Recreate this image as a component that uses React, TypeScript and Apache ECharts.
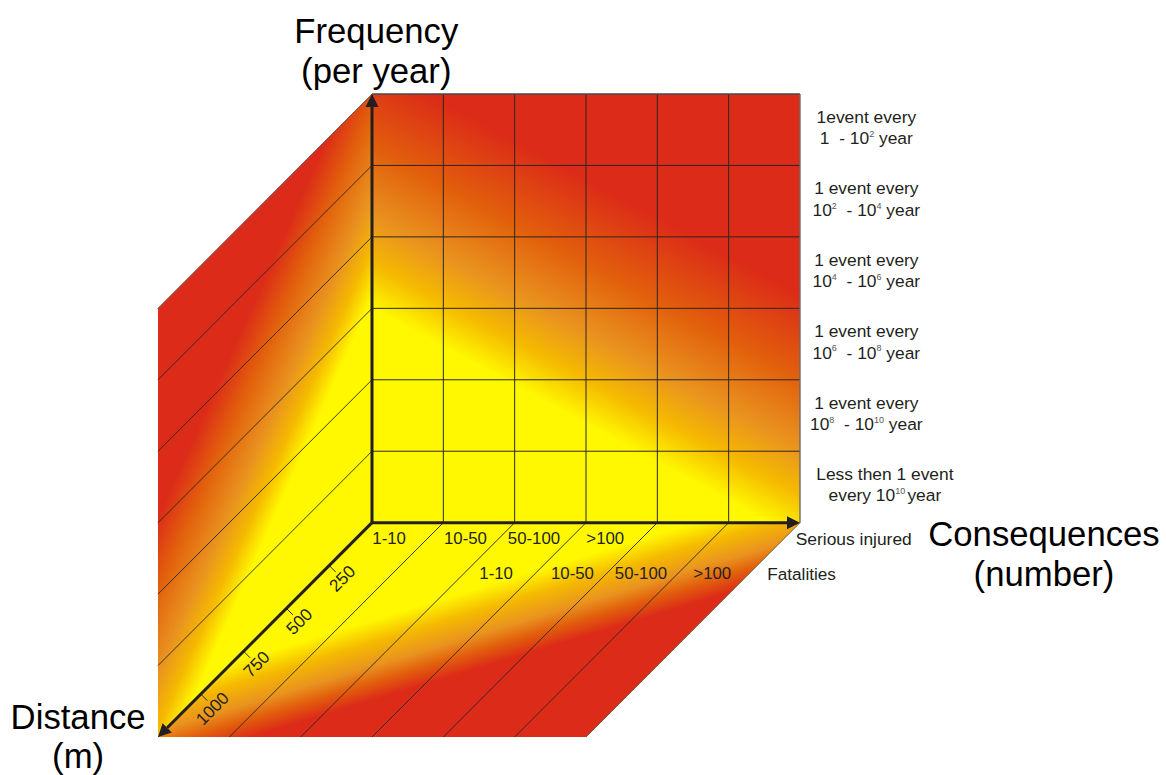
import React, { useEffect, useRef } from "react";
import * as echarts from "echarts";

// Axis content
const frequencyLabels = [
  "Less then 1 event\nevery 10{sup|10}{gap| }year",
  "1 event every\n10{sup|8}  - 10{sup|10} year",
  "1 event every\n10{sup|6}  - 10{sup|8} year",
  "1 event every\n10{sup|4}  - 10{sup|6} year",
  "1 event every\n10{sup|2}  - 10{sup|4} year",
  "1event every\n1  - 10{sup|2} year",
];
const consequenceLabels = ["1-10", "10-50", "50-100", ">100"];
const consequenceRows = ["Serious injured", "Fatalities"];
const distanceTicks = [250, 500, 750, 1000];
const distanceDepthPerMetre = 0.0024;
const gridLevels = [0, 1, 2, 3, 4, 5, 6];
const maxDepth = 3;

// Colour ramp (yellow = low risk, red = high risk)
const rampColors = ["#FFF800", "#F5BA00", "#E9931F", "#E2600C", "#DC2B18"];
const frontRamp = [0, 0.18, 0.37, 0.65, 1];
const bottomRamp = [0, 0.28, 0.575, 0.775, 1];
const leftRamp = [0, 0.19, 0.4, 0.72, 1];

// Faces in (consequence, frequency) units, depth projected at 45 degrees
const frontCorners = [[0, 0], [6, 0], [6, 6], [0, 6]];
const bottomCorners = [[0, 0], [6, 0], [3, -3], [-3, -3]];
const leftCorners = [[0, 0], [0, 6], [-3, 3], [-3, -3]];
const frontIso = [[0, 3], [1.436, 5.66]];
const bottomIso = [[-0.03, -1.374], [0.28, -2.403]];
const leftIso = [[-1.673, -0.608], [-3.04, 0]];

const faces = [
  { corners: bottomCorners, iso: bottomIso, ramp: bottomRamp },
  { corners: leftCorners, iso: leftIso, ramp: leftRamp },
  { corners: frontCorners, iso: frontIso, ramp: frontRamp },
];

const FONT = "'Liberation Sans', Arial, sans-serif";
const INK = "#231F20";

type Seg = { a: number[]; b: number[]; width: number; color: string };
const segments: Seg[] = [];
gridLevels.forEach((k) => {
  const edge = k === 6;
  if (k > 0) {
    segments.push({ a: [0, k], b: [6, k], width: edge ? 1.4 : 1, color: edge ? "#4a4a4a" : "#2b2622" });
    segments.push({ a: [k, 0], b: [k, 6], width: edge ? 1.4 : 1, color: edge ? "#6a6a6a" : "#2b2622" });
  }
  segments.push({ a: [0, k], b: [-maxDepth, k - maxDepth], width: edge ? 1 : 0.9, color: edge ? "#666666" : "#2b2622" });
  if (k > 0) {
    segments.push({ a: [k, 0], b: [k - maxDepth, -maxDepth], width: 0.9, color: k === 6 ? "#6b5a30" : "#2b2622" });
  }
});

const axes = [
  { tip: [0, 6] },
  { tip: [6, 0] },
  { tip: [-maxDepth, -maxDepth] },
];

type Lbl = { text: string; at: number[]; size: number; rotate?: number; align?: string; rich?: boolean };
const labels: Lbl[] = [];
frequencyLabels.forEach((t, i) => {
  labels.push({ text: t, at: [i === 0 ? 7.19 : 6.93, i + 0.53], size: 17.4, rich: true });
});
consequenceLabels.forEach((t, i) => {
  labels.push({ text: t, at: [0.24 + [0, 1.07, 2.03, 3.03][i], -0.225], size: 16.8 });
  labels.push({ text: t, at: [1.74 + [0, 1.07, 2.03, 3.03][i], -0.715], size: 16.8 });
});
labels.push({ text: consequenceRows[0], at: [5.94, -0.225], size: 17.4, align: "left" });
labels.push({ text: consequenceRows[1], at: [5.54, -0.715], size: 17.2, align: "left" });
distanceTicks.forEach((v) => {
  const d = v * distanceDepthPerMetre;
  labels.push({ text: String(v), at: [-d + 0.18 - (v === 1000 ? 0.02 : 0), -d - 0.18 - (v === 1000 ? 0.02 : 0)], size: 17.2, rotate: Math.PI / 4 });
});
labels.push({ text: "Frequency", at: [0.06, 6.88], size: 34.7 });
labels.push({ text: "(per year)", at: [0.06, 6.32], size: 34.7 });
labels.push({ text: "Consequences", at: [9.42, -0.155], size: 34.7 });
labels.push({ text: "(number)", at: [9.42, -0.715], size: 34.7 });
labels.push({ text: "Distance", at: [-4.12, -2.72], size: 34.7 });
labels.push({ text: "(m)", at: [-4.12, -3.26], size: 34.7 });

function App() {
  const ref = useRef<HTMLDivElement>(null);
  useEffect(() => {
    const chart = echarts.init(ref.current!, null, { renderer: "svg" });
    const line = (api: any, a: number[], b: number[], width: number, color: string) => {
      const p = api.coord(a);
      const q = api.coord(b);
      return {
        type: "line",
        shape: { x1: p[0], y1: p[1], x2: q[0], y2: q[1] },
        style: { stroke: color, lineWidth: width, fill: null },
      };
    };
    chart.setOption({
      animation: false,
      backgroundColor: "#ffffff",
      grid: { left: 158, right: 366, top: 94, bottom: 38 },
      xAxis: { type: "value", min: -3, max: 6, interval: 1, show: false },
      yAxis: { type: "value", min: -3, max: 6, interval: 1, show: false },
      series: [
        {
          type: "custom",
          silent: true,
          data: faces.map((_, i) => [i, 0]),
          renderItem: (params: any, api: any) => {
            const f = faces[params.dataIndex];
            const g0 = api.coord(f.iso[0]);
            const g1 = api.coord(f.iso[1]);
            return {
              type: "polygon",
              shape: { points: f.corners.map((c) => api.coord(c)) },
              style: {
                fill: new echarts.graphic.LinearGradient(
                  g0[0], g0[1], g1[0], g1[1],
                  f.ramp.map((o, j) => ({ offset: o, color: rampColors[j] })),
                  true
                ),
              },
            };
          },
        },
        {
          type: "custom",
          silent: true,
          data: segments.map((_, i) => [i, 0]),
          renderItem: (params: any, api: any) => {
            const s = segments[params.dataIndex];
            return line(api, s.a, s.b, s.width, s.color);
          },
        },
        {
          type: "custom",
          silent: true,
          data: distanceTicks.map((v) => [v, 0]),
          renderItem: (params: any, api: any) => {
            const d = distanceTicks[params.dataIndex] * distanceDepthPerMetre;
            const p = api.coord([-d, -d]);
            return {
              type: "line",
              shape: { x1: p[0], y1: p[1], x2: p[0] + 6.5, y2: p[1] + 6.5 },
              style: { stroke: "#2b2622", lineWidth: 1, fill: null },
            };
          },
        },
        {
          type: "custom",
          silent: true,
          data: axes.map((_, i) => [i, 0]),
          renderItem: (params: any, api: any) => {
            const o = api.coord([0, 0]);
            const t = api.coord(axes[params.dataIndex].tip);
            const dx = t[0] - o[0];
            const dy = t[1] - o[1];
            const len = Math.hypot(dx, dy);
            const ux = dx / len;
            const uy = dy / len;
            const bx = t[0] - ux * 13;
            const by = t[1] - uy * 13;
            return {
              type: "group",
              children: [
                {
                  type: "line",
                  shape: { x1: o[0], y1: o[1], x2: bx, y2: by },
                  style: { stroke: INK, lineWidth: 3, fill: null },
                },
                {
                  type: "polygon",
                  shape: {
                    points: [
                      [t[0], t[1]],
                      [bx - uy * 6.5, by + ux * 6.5],
                      [bx + uy * 6.5, by - ux * 6.5],
                    ],
                  },
                  style: { fill: INK },
                },
              ],
            };
          },
        },
        {
          type: "custom",
          silent: true,
          data: labels.map((_, i) => [i, 0]),
          renderItem: (params: any, api: any) => {
            const l = labels[params.dataIndex];
            const p = api.coord(l.at);
            return {
              type: "text",
              x: p[0],
              y: p[1],
              rotation: l.rotate || 0,
              style: {
                text: l.text,
                fontFamily: FONT,
                fontSize: l.size,
                fill: l.size > 30 ? "#000000" : INK,
                align: l.align || "center",
                verticalAlign: "middle",
                lineHeight: l.rich ? 21.3 : undefined,
                rich: l.rich
                  ? {
                      sup: {
                        fontFamily: FONT,
                        fontSize: 9,
                        fill: "#555555",
                        verticalAlign: "top",
                        padding: [2, 0, 0, 0],
                        lineHeight: 21.3,
                      },
                      gap: { fontFamily: FONT, fontSize: 8, lineHeight: 21.3 },
                    }
                  : undefined,
              },
            };
          },
        },
      ],
    });
    return () => chart.dispose();
  }, []);
  return <div ref={ref} style={{ position: "absolute", left: 0, top: 0, width: 1166, height: 775 }} />;
}

export default App;
